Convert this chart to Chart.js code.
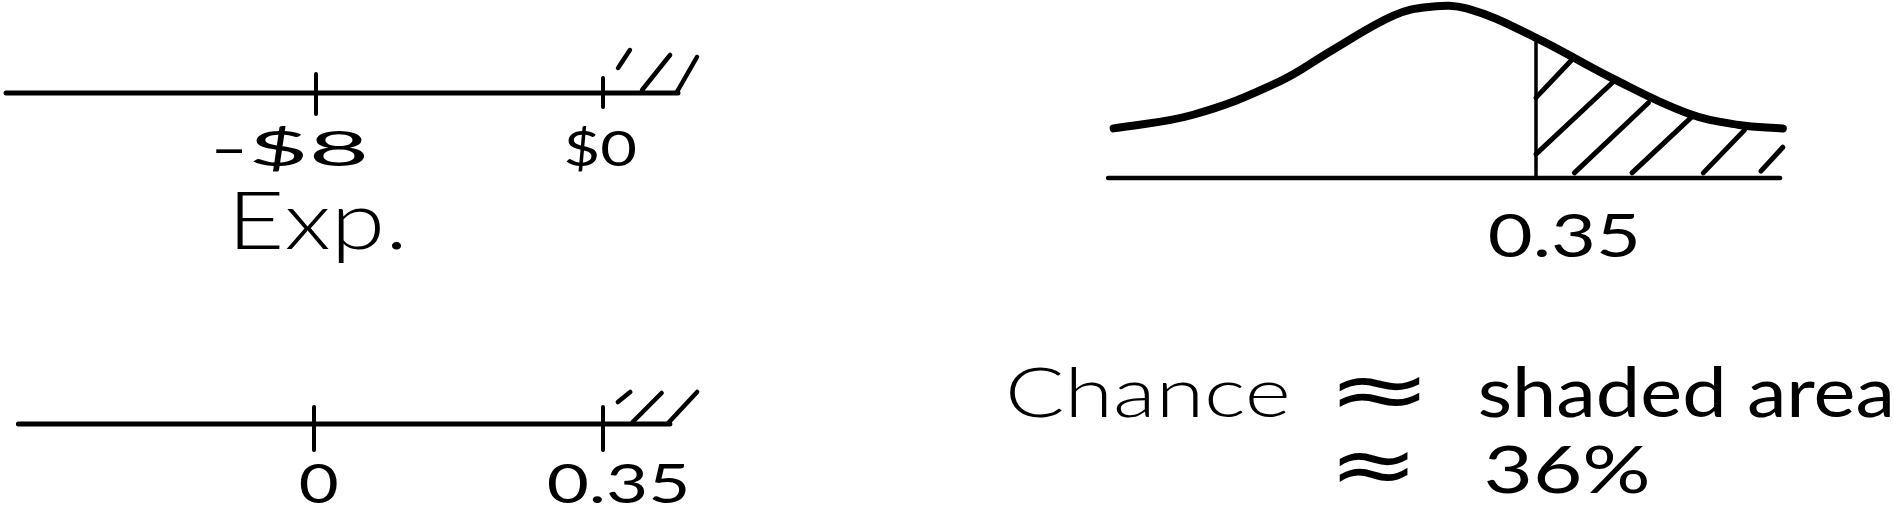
<!DOCTYPE html>
<html>
<head>
<meta charset="utf-8">
<script src="https://cdn.jsdelivr.net/npm/chart.js@4.4.1/dist/chart.umd.min.js"></script>
<style>
  html, body { margin: 0; padding: 0; background: #fff; }
  #wrap { position: relative; width: 1894px; height: 510px; }
</style>
</head>
<body>
<div id="wrap"><canvas id="sketch"></canvas></div>
<script>
// top number line, in dollars
const expTicks = [-8, 0];
const expTickLabels = ['-$8', '$0'];
const expName = 'Exp.';
const expLine = [-16.64, 2.09];
const expTickSpan = [[0.95, -1.05], [0.75, -0.7]];
const expHatch = [[0.42, 1.25, 0.75, 2.15], [1.09, 0.15, 1.87, 1.9], [2.06, 0.05, 2.62, 1.8]];

// bottom number line, standard units
const zTicks = [0, 0.35];
const zTickLabels = ['0', '0.35'];
const zLine = [-0.358, 0.431];
const zTickSpan = [[0.85, -1.3], [0.85, -1.3]];
const zHatch = [[0.368, 1.1, 0.383, 1.6], [0.386, 0.1, 0.421, 1.55], [0.429, 0.05, 0.464, 1.6]];

// the curve (height relative to its top)
const curveX = [-1.19, -0.90, -0.59, -0.39, -0.17, -0.04, 0.10, 0.35, 0.62, 0.90, 1.09, 1.25];
const curveY = [0.29, 0.37, 0.56, 0.75, 0.95, 1.00, 0.99, 0.82, 0.59, 0.38, 0.31, 0.29];
const curveBase = [-1.21, 1.24];
const cutValue = 0.35;
const cutLabel = '0.35';
const cutTop = 0.81;
const shadeHatch = [[0.35, 0.47, 0.48, 0.69], [0.35, 0.14, 0.63, 0.56], [0.49, 0.03, 0.76, 0.44], [0.70, 0.03, 0.92, 0.36], [0.96, 0.03, 1.11, 0.28], [1.17, 0.04, 1.25, 0.18]];

const chanceWords = ['Chance', '\u2248', 'shaded area'];
const chanceValue = ['\u2248', '36%'];

const W = 1894, H = 510;

// value v0 sits at pixel p0 and v1 at p1 -> min/max over the whole canvas
function fit(v0, p0, v1, p1, size) {
  const k = (p1 - p0) / (v1 - v0);
  const a = v0 - p0 / k, b = v0 + (size - p0) / k;
  return { type: 'linear', display: false, min: Math.min(a, b), max: Math.max(a, b) };
}

function seg(points, xAxisID, yAxisID, width, smooth) {
  return {
    data: points,
    xAxisID: xAxisID,
    yAxisID: yAxisID,
    showLine: true,
    pointRadius: 0,
    borderColor: '#000',
    borderWidth: width,
    borderCapStyle: 'round',
    borderJoinStyle: 'round',
    tension: smooth ? 0.4 : 0,
    fill: false
  };
}

const datasets = [];
datasets.push(seg([{ x: expLine[0], y: 0 }, { x: expLine[1], y: 0 }], 'xA', 'yA', 5));
expTicks.forEach((t, i) => {
  datasets.push(seg([{ x: t, y: expTickSpan[i][0] }, { x: t, y: expTickSpan[i][1] }], 'xA', 'yA', 4));
});
expHatch.forEach(h => {
  datasets.push(seg([{ x: h[0], y: h[1] }, { x: h[2], y: h[3] }], 'xA', 'yA', 4.5));
});

datasets.push(seg([{ x: zLine[0], y: 0 }, { x: zLine[1], y: 0 }], 'xB', 'yB', 5));
zTicks.forEach((t, i) => {
  datasets.push(seg([{ x: t, y: zTickSpan[i][0] }, { x: t, y: zTickSpan[i][1] }], 'xB', 'yB', 4));
});
zHatch.forEach(h => {
  datasets.push(seg([{ x: h[0], y: h[1] }, { x: h[2], y: h[3] }], 'xB', 'yB', 4.5));
});

datasets.push(seg(curveX.map((x, i) => ({ x: x, y: curveY[i] })), 'xC', 'yC', 8, true));
datasets.push(seg([{ x: curveBase[0], y: 0 }, { x: curveBase[1], y: 0 }], 'xC', 'yC', 4.5));
datasets.push(seg([{ x: cutValue, y: 0 }, { x: cutValue, y: cutTop }], 'xC', 'yC', 3.5));
shadeHatch.forEach(h => {
  datasets.push(seg([{ x: h[0], y: h[1] }, { x: h[2], y: h[3] }], 'xC', 'yC', 5));
});

const FONT = 'Lato, "DejaVu Sans", sans-serif';

// draw text so its ink starts at left and is exactly width wide
function write(ctx, text, left, baseline, size, width, weight) {
  ctx.font = (weight || 400) + ' ' + size + 'px ' + FONT;
  const m = ctx.measureText(text);
  const w = m.actualBoundingBoxLeft + m.actualBoundingBoxRight;
  ctx.save();
  ctx.translate(left, baseline);
  ctx.scale(width / w, 1);
  ctx.fillText(text, m.actualBoundingBoxLeft, 0);
  ctx.restore();
}

// squeeze a glyph's ink into a box (used for the approx signs)
function writeBox(ctx, text, left, top, width, height) {
  ctx.font = '400 80px "DejaVu Sans", sans-serif';
  const m = ctx.measureText(text);
  const w = m.actualBoundingBoxLeft + m.actualBoundingBoxRight;
  const h = m.actualBoundingBoxAscent + m.actualBoundingBoxDescent;
  ctx.save();
  ctx.translate(left, top);
  ctx.scale(width / w, height / h);
  ctx.fillText(text, m.actualBoundingBoxLeft, m.actualBoundingBoxAscent);
  ctx.restore();
}

const labelText = {
  id: 'labelText',
  afterDraw(chart) {
    const ctx = chart.ctx;
    const s = chart.scales;
    ctx.save();
    ctx.fillStyle = '#000';
    ctx.textAlign = 'left';
    ctx.textBaseline = 'alphabetic';

    const expBox = [[-100, 150], [-37, 69]];
    expTicks.forEach((t, i) => {
      const p = s.xA.getPixelForValue(t);
      write(ctx, expTickLabels[i], p + expBox[i][0], 166, 49, expBox[i][1]);
    });
    write(ctx, expName, s.xA.getPixelForValue(expTicks[0]) - 79, 249, 81, 165, 300);

    const zBox = [[-14, 37], [-55, 138]];
    zTicks.forEach((t, i) => {
      const p = s.xB.getPixelForValue(t);
      write(ctx, zTickLabels[i], p + zBox[i][0], 503, 54, zBox[i][1]);
    });

    const cut = s.xC.getPixelForValue(cutValue);
    write(ctx, cutLabel, cut - 47, 257, 60, 147);

    write(ctx, chanceWords[0], 1010, 417, 69, 277, 300);
    writeBox(ctx, chanceWords[1], 1339, 377, 81, 31);
    write(ctx, chanceWords[2], 1480, 417, 69, 410);
    writeBox(ctx, chanceValue[0], 1339, 452, 69, 31);
    write(ctx, chanceValue[1], 1486, 493, 66, 161);
    ctx.restore();
  }
};

new Chart(document.getElementById('sketch'), {
  type: 'scatter',
  data: { datasets: datasets },
  options: {
    responsive: true,
    maintainAspectRatio: false,
    animation: false,
    layout: { padding: 0 },
    scales: {
      xA: fit(-8, 316, 0, 603, W),
      yA: fit(0, 93, 1, 73, H),
      xB: fit(0, 314, 0.35, 603, W),
      yB: fit(0, 424, 1, 404, H),
      xC: fit(0, 1440, 0.35, 1536, W),
      yC: fit(0, 178, 1, 7, H)
    },
    plugins: {
      legend: { display: false },
      tooltip: { enabled: false }
    }
  },
  plugins: [labelText]
});
</script>
</body>
</html>
